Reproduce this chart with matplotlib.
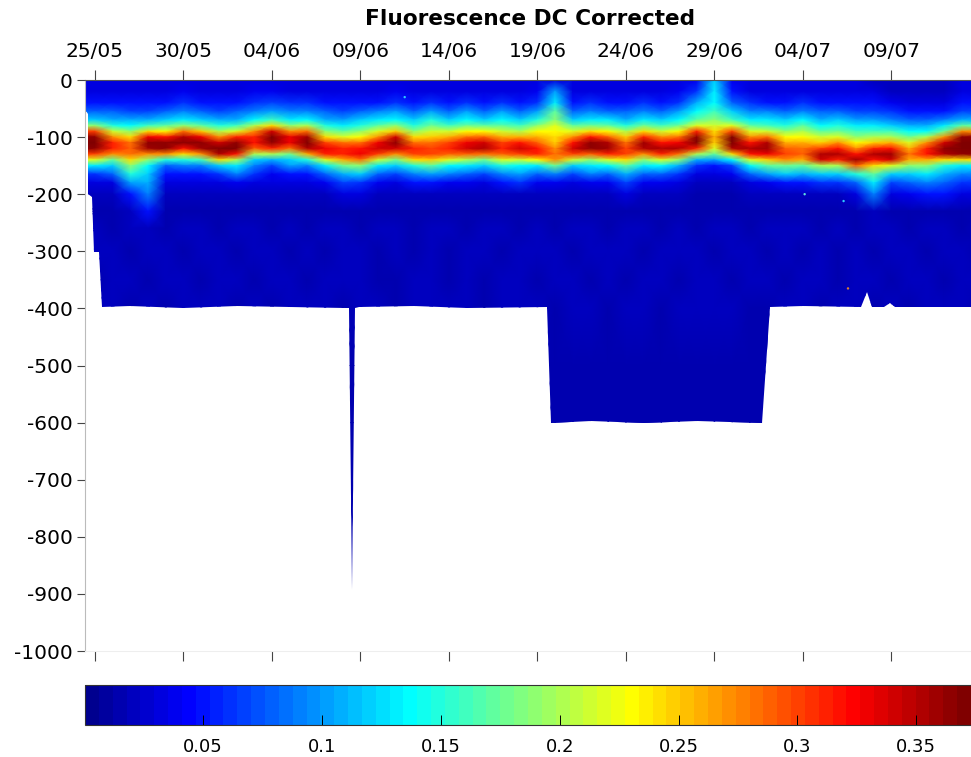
"""Fluorescence DC corrected section, depth against date."""
import numpy as np
import matplotlib
matplotlib.use("Agg")
import matplotlib.pyplot as plt
from matplotlib.colors import LinearSegmentedColormap
from matplotlib.patches import Polygon

plt.rcParams["axes.unicode_minus"] = False
W, H = 971, 757

tick_days = [0, 5, 10, 15, 20, 25, 30, 35, 40, 45]
tick_labels = ["25/05", "30/05", "04/06", "09/06", "14/06", "19/06", "24/06", "29/06", "04/07", "09/07"]
depth_ticks = [0, -100, -200, -300, -400, -500, -600, -700, -800, -900, -1000]
cbar_ticks = [0.05, 0.1, 0.15, 0.2, 0.25, 0.3, 0.35]
cbar_labels = ["0.05", "0.1", "0.15", "0.2", "0.25", "0.3", "0.35"]

days = list(range(-1, 51))
depths = [0, -20, -40, -55, -70, -80, -90, -100, -110, -120, -130, -140, -150, -165, -180, -200, -230]
# one row per day, one value per depth above
upper = [
    [.03, .03, .05, .08, .12, .19, .30, .365, .37, .365, .30, .22, .13, .06, .03, .02, .015],
    [.03, .03, .05, .08, .12, .19, .30, .365, .37, .365, .30, .22, .13, .06, .03, .02, .015],
    [.03, .03, .05, .08, .11, .15, .21, .27, .31, .31, .27, .17, .12, .08, .03, .02, .015],
    [.03, .03, .05, .07, .11, .14, .19, .24, .28, .29, .28, .24, .19, .15, .10, .05, .02],
    [.03, .03, .05, .07, .11, .16, .24, .33, .365, .36, .27, .19, .14, .12, .11, .09, .05],
    [.03, .03, .05, .08, .12, .17, .23, .32, .365, .365, .27, .15, .08, .05, .03, .02, .015],
    [.03, .04, .06, .09, .13, .19, .28, .35, .365, .32, .24, .15, .09, .05, .03, .02, .015],
    [.03, .03, .05, .08, .12, .17, .25, .33, .365, .36, .27, .16, .09, .05, .03, .02, .015],
    [.03, .03, .05, .07, .11, .15, .20, .27, .34, .37, .35, .24, .12, .06, .03, .02, .015],
    [.03, .03, .05, .08, .11, .16, .22, .31, .365, .37, .32, .20, .13, .09, .04, .02, .015],
    [.03, .04, .06, .09, .14, .20, .27, .31, .32, .29, .20, .12, .09, .06, .03, .02, .015],
    [.03, .04, .07, .10, .16, .24, .34, .37, .365, .31, .20, .11, .07, .04, .03, .02, .015],
    [.03, .03, .06, .09, .13, .19, .27, .33, .33, .28, .18, .12, .10, .05, .03, .02, .015],
    [.03, .03, .06, .09, .14, .20, .28, .36, .37, .35, .26, .15, .09, .05, .03, .02, .015],
    [.03, .03, .05, .08, .11, .15, .19, .24, .30, .33, .31, .22, .13, .08, .04, .02, .015],
    [.03, .03, .05, .07, .10, .13, .17, .22, .28, .31, .31, .26, .18, .11, .07, .03, .015],
    [.03, .03, .05, .08, .12, .15, .19, .23, .28, .32, .33, .28, .19, .12, .06, .03, .015],
    [.03, .03, .05, .09, .13, .17, .22, .27, .33, .34, .30, .21, .13, .08, .04, .02, .015],
    [.03, .04, .06, .10, .14, .19, .25, .34, .365, .34, .27, .18, .12, .07, .03, .02, .015],
    [.03, .03, .05, .08, .12, .15, .19, .24, .28, .31, .30, .24, .15, .09, .05, .02, .015],
    [.03, .03, .06, .10, .15, .18, .21, .25, .28, .30, .30, .25, .17, .10, .05, .02, .015],
    [.03, .03, .05, .08, .12, .16, .21, .26, .30, .31, .29, .22, .14, .09, .04, .02, .015],
    [.03, .03, .06, .10, .14, .18, .23, .28, .33, .34, .29, .20, .13, .08, .04, .02, .015],
    [.03, .03, .05, .08, .12, .17, .23, .29, .34, .35, .28, .18, .12, .07, .03, .02, .015],
    [.03, .03, .06, .10, .14, .17, .21, .26, .30, .31, .29, .22, .15, .09, .05, .02, .015],
    [.03, .03, .05, .08, .12, .16, .20, .26, .32, .34, .30, .21, .14, .10, .06, .02, .015],
    [.03, .04, .06, .10, .15, .19, .23, .26, .29, .32, .31, .23, .13, .08, .04, .02, .015],
    [.03, .10, .13, .17, .19, .22, .23, .24, .25, .27, .28, .27, .18, .09, .04, .02, .015],
    [.03, .03, .05, .08, .12, .17, .22, .27, .32, .34, .30, .21, .12, .07, .03, .02, .015],
    [.03, .03, .06, .09, .13, .18, .24, .32, .365, .365, .29, .19, .13, .09, .04, .02, .015],
    [.03, .03, .05, .08, .13, .17, .23, .29, .35, .36, .31, .22, .14, .08, .04, .02, .015],
    [.03, .03, .05, .08, .11, .15, .20, .25, .28, .30, .30, .24, .17, .11, .07, .03, .015],
    [.03, .03, .06, .09, .13, .18, .24, .31, .36, .35, .27, .19, .13, .08, .04, .02, .015],
    [.03, .03, .05, .08, .12, .16, .21, .27, .32, .35, .31, .22, .14, .08, .04, .02, .015],
    [.03, .04, .06, .10, .14, .18, .23, .28, .33, .35, .28, .19, .11, .06, .03, .02, .015],
    [.04, .06, .11, .14, .17, .22, .31, .365, .37, .31, .20, .11, .06, .03, .02, .015, .012],
    [.12, .13, .14, .16, .19, .21, .24, .26, .25, .22, .17, .10, .05, .03, .02, .015, .012],
    [.04, .05, .08, .12, .16, .22, .30, .37, .37, .35, .24, .14, .07, .04, .02, .015, .012],
    [.03, .03, .06, .09, .13, .17, .22, .27, .32, .35, .32, .22, .14, .08, .03, .02, .015],
    [.03, .03, .05, .09, .13, .16, .21, .28, .35, .36, .33, .25, .17, .10, .04, .02, .015],
    [.03, .03, .05, .08, .12, .15, .19, .23, .26, .29, .30, .27, .18, .12, .05, .02, .015],
    [.03, .03, .06, .09, .14, .17, .20, .23, .26, .28, .29, .26, .17, .11, .05, .02, .015],
    [.03, .03, .05, .08, .11, .14, .17, .21, .25, .30, .35, .34, .20, .12, .06, .02, .015],
    [.03, .03, .05, .08, .12, .15, .18, .22, .27, .32, .35, .31, .20, .12, .06, .02, .015],
    [.03, .03, .05, .07, .10, .13, .16, .19, .23, .27, .32, .36, .29, .15, .08, .03, .015],
    [.02, .03, .05, .07, .10, .13, .16, .20, .25, .31, .35, .32, .24, .17, .13, .09, .02],
    [.02, .02, .04, .06, .09, .12, .16, .20, .26, .32, .36, .34, .22, .12, .07, .03, .015],
    [.02, .02, .03, .05, .08, .11, .14, .18, .22, .26, .28, .26, .19, .12, .08, .04, .012],
    [.02, .02, .03, .05, .08, .11, .14, .20, .27, .31, .32, .26, .19, .13, .09, .05, .015],
    [.02, .02, .03, .05, .09, .13, .18, .27, .34, .365, .35, .24, .15, .11, .08, .05, .015],
    [.03, .03, .05, .07, .11, .17, .27, .365, .37, .37, .365, .24, .13, .09, .06, .03, .012],
    [.03, .03, .05, .07, .11, .17, .27, .365, .37, .37, .365, .24, .13, .09, .06, .03, .012],
]

# deep water, one list per depth, one value per day
deep_depths = [-260, -300, -350, -400, -500, -600, -900]
fl_260 = [.018, .018, .014, .022, .018, .014, .022, .018, .014, .018, .022, .014, .018, .014, .022, .018, .014, .018, .022, .014,
          .018, .022, .014, .018, .022, .014, .018, .014, .022, .018, .014, .018, .022, .014, .018, .014, .018, .022, .014, .018,
          .022, .018, .014, .018, .014, .022, .018, .014, .022, .018, .014, .018]
fl_300 = [.014, .022, .018, .014, .018, .022, .014, .018, .022, .014, .018, .022, .014, .022, .014, .018, .022, .014, .018, .014,
          .022, .014, .018, .022, .014, .018, .022, .018, .014, .022, .018, .022, .014, .018, .022, .018, .014, .018, .022, .014,
          .018, .014, .022, .014, .018, .014, .022, .018, .014, .022, .018, .014]
fl_350 = [.018, .014, .022, .018, .014, .018, .018, .014, .022, .018, .014, .018, .022, .014, .018, .022, .018, .014, .014, .022,
          .018, .014, .022, .014, .018, .022, .014, .022, .018, .014, .022, .014, .018, .022, .014, .022, .018, .014, .018, .022,
          .014, .022, .018, .014, .022, .018, .014, .022, .018, .014, .022, .018]
fl_400 = [.014, .018, .018, .014, .022, .014, .018, .022, .018, .014, .018, .014, .018, .022, .018, .014, .018, .022, .014, .018,
          .022, .018, .018, .014, .018, .018, .022, .014, .018, .022, .014, .018, .022, .014, .018, .022, .018, .022, .014, .014,
          .018, .022, .014, .018, .022, .014, .018, .014, .022, .018, .018, .014]
fl_500 = [.017] * 52
fl_600 = [.016] * 52
fl_900 = [.015] * 52

# outline of the sampled region, left edge then the bottom, days and depth
edge_days = [-0.56, -0.5, -0.4, -0.4, -0.17, -0.06, 0.23, 0.4, 2, 5, 8, 11, 14.2, 14.35, 14.52, 14.7,
             14.9, 18, 21, 25.54, 25.76, 28, 31, 34, 37.68, 38.14, 40, 43.3, 43.6, 43.9, 44.6, 44.9, 45.2, 47, 50]
edge_depth = [0, -55, -60, -200, -205, -302, -302, -398, -396, -399, -396, -398, -399, -400, -893, -400,
              -398, -396, -399, -398, -600, -597, -600, -598, -600, -398, -396, -398, -372, -398, -398, -390, -398, -398, -397]

# isolated bright samples
speck_days = [17.5, 40.1, 42.3, 42.55]
speck_depth = [-30, -200, -212, -365]
speck_color = ["#30c8ff", "#60e0e0", "#30c8ff", "#e08030"]

# MATLAB jet anchors, 64 levels
jet_pos = [0, 7 / 63, 23 / 63, 39 / 63, 55 / 63, 1]
jet_col = [(0, 0, .5625), (0, 0, 1), (0, 1, 1), (1, 1, 0), (1, 0, 0), (.5, 0, 0)]
jet64 = LinearSegmentedColormap.from_list("jet64", list(zip(jet_pos, jet_col)), N=64)

z = np.array(depths + deep_depths)
fl = np.array(upper)
deep = np.array([fl_260, fl_300, fl_350, fl_400, fl_500, fl_600, fl_900]).T
fl_all = np.hstack([fl, deep])

fig = plt.figure(figsize=(W / 100, H / 100), dpi=100)
ax = fig.add_axes([85 / W, 1 - 651 / H, 886 / W, 571 / H])
mesh = ax.pcolormesh(np.array(days), z, fl_all.T, cmap=jet64, vmin=0.0003, vmax=0.373, shading="gouraud")
outline = Polygon(list(zip(edge_days, edge_depth)) + [(50, 0)], closed=True, transform=ax.transData,
                  fc="none", ec="none")
ax.add_patch(outline)
mesh.set_clip_path(outline)
ax.scatter(speck_days, speck_depth, s=3, c=speck_color, linewidths=0, zorder=3)

ax.set_xlim(-0.565, 49.5)
ax.set_ylim(-1000, 0)
ax.set_yticks(depth_ticks)
ax.set_xticks(tick_days)
ax.set_xticklabels(tick_labels)
ax.tick_params(axis="x", top=True, labeltop=True, bottom=True, labelbottom=False, direction="out",
               length=7, width=0.8, color="#444444", labelsize=14.5, pad=7)
ax.tick_params(axis="y", direction="out", length=6, width=0.8, color="#444444", labelsize=14.5, pad=3)
ax.spines["top"].set_color("#555555")
ax.spines["left"].set_color("#bbbbbb")
ax.spines["bottom"].set_color("#eeeeee")
ax.spines["right"].set_visible(False)
fig.text(530 / W, 1 - 19 / H, "Fluorescence DC Corrected", ha="center", va="center", fontsize=15.6, weight="bold")

cax = fig.add_axes([85 / W, 1 - 725 / H, 886 / W, 40 / H])
cb = fig.colorbar(mesh, cax=cax, orientation="horizontal", ticks=cbar_ticks)
cb.ax.set_xticklabels(cbar_labels)
cb.ax.tick_params(direction="in", length=7, width=0.7, labelsize=13, pad=9)
cb.outline.set_edgecolor("#333333")

fig.savefig("out.png", dpi=100)
